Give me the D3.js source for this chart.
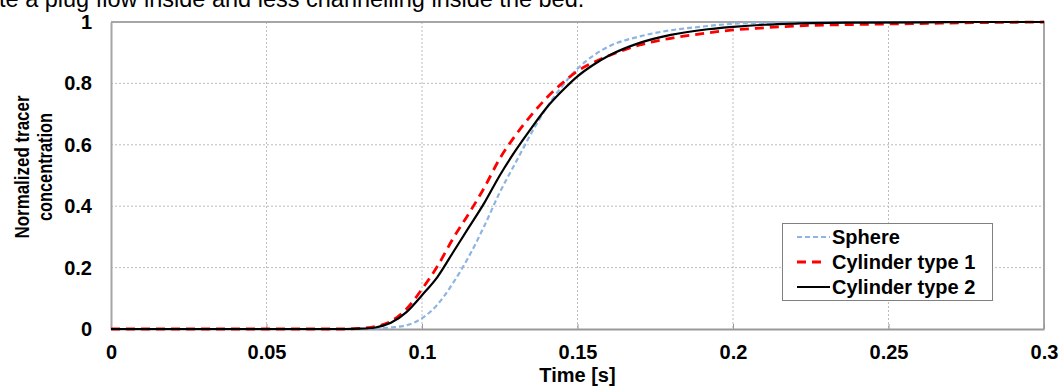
<!DOCTYPE html>
<html><head><meta charset="utf-8">
<script src="https://cdn.jsdelivr.net/npm/d3@7"></script>
<style>body{margin:0;background:#fff;}svg{display:block;}</style>
</head><body>
<svg id="c" width="1060" height="388"></svg>
<script>
const times = [0, 0.075, 0.08, 0.085, 0.09, 0.095, 0.1, 0.105, 0.11, 0.115, 0.12, 0.125, 0.13, 0.135, 0.14, 0.145, 0.15, 0.155, 0.16, 0.17, 0.18, 0.19, 0.2, 0.21, 0.22, 0.24, 0.26, 0.28, 0.3];
const sphere = [0, 0, 0, 0.001, 0.005, 0.012, 0.035, 0.08, 0.15, 0.235, 0.335, 0.445, 0.54, 0.635, 0.72, 0.79, 0.848, 0.89, 0.92, 0.953, 0.973, 0.985, 0.994, 0.997, 0.999, 1, 1, 1, 1];
const cyl1 = [0, 0, 0.002, 0.008, 0.025, 0.065, 0.13, 0.205, 0.295, 0.375, 0.46, 0.555, 0.63, 0.695, 0.752, 0.8, 0.84, 0.868, 0.89, 0.925, 0.947, 0.962, 0.974, 0.981, 0.987, 0.992, 0.995, 0.998, 1];
const cyl2 = [0, 0, 0.001, 0.005, 0.02, 0.055, 0.11, 0.17, 0.25, 0.33, 0.41, 0.5, 0.58, 0.652, 0.72, 0.775, 0.823, 0.86, 0.89, 0.932, 0.958, 0.974, 0.984, 0.991, 0.995, 0.998, 0.999, 1, 1];
const seriesNames = ["Sphere", "Cylinder type 1", "Cylinder type 2"];
const xTicks = [0, 0.05, 0.1, 0.15, 0.2, 0.25, 0.3];
const yTicks = [0, 0.2, 0.4, 0.6, 0.8, 1];
const headline = "te a plug flow inside and less channelling inside the bed.";
const yTitle = ["Normalized tracer", "concentration"];
const xTitle = "Time [s]";

const svg = d3.select("#c");
const L = 111, R = 1044, T = 22, B = 329;
const x = d3.scaleLinear().domain([0, 0.3]).range([L, R]);
const y = d3.scaleLinear().domain([0, 1]).range([B, T]);
const font = "'Liberation Sans', Arial, sans-serif";

svg.append("text").attr("x", -1).attr("y", 7).attr("font-family", font).attr("font-size", 23.5)
  .attr("fill", "#000").text(headline);

// grid
svg.append("g").selectAll("line").data(xTicks.slice(1, -1)).join("line")
  .attr("x1", d => x(d)).attr("x2", d => x(d)).attr("y1", T).attr("y2", B)
  .attr("stroke", "#bdbdbd").attr("stroke-width", 1).attr("stroke-dasharray", "2,2");
svg.append("g").selectAll("line").data(yTicks.slice(1, -1)).join("line")
  .attr("x1", L).attr("x2", R).attr("y1", d => y(d)).attr("y2", d => y(d))
  .attr("stroke", "#bdbdbd").attr("stroke-width", 1).attr("stroke-dasharray", "2,2");

// frame
svg.append("line").attr("x1", L).attr("x2", R + 1).attr("y1", T).attr("y2", T).attr("stroke", "#a6a6a6").attr("stroke-width", 2);
svg.append("line").attr("x1", R).attr("x2", R).attr("y1", T).attr("y2", B).attr("stroke", "#a6a6a6").attr("stroke-width", 2);

// axes
const xAxis = svg.append("g").attr("transform", `translate(0,${B})`)
  .call(d3.axisBottom(x).tickValues(xTicks).tickSize(-5).tickSizeOuter(0).tickFormat(d3.format("~g")).tickPadding(16));
xAxis.select(".domain").attr("stroke", "#999").attr("stroke-width", 2);
xAxis.selectAll(".tick line").attr("stroke", "#999");
xAxis.selectAll("text").attr("font-family", font).attr("font-size", 20).attr("font-weight", "bold").attr("fill", "#000");

const yAxis = svg.append("g").attr("transform", `translate(${L},0)`)
  .call(d3.axisLeft(y).tickValues(yTicks).tickSize(0).tickFormat(d3.format("~g")).tickPadding(19));
yAxis.select(".domain").attr("stroke", "#a6a6a6").attr("stroke-width", 2);
yAxis.selectAll("text").attr("font-family", font).attr("font-size", 20).attr("font-weight", "bold").attr("fill", "#000");

// axis titles
svg.append("text").attr("x", (L + R) / 2).attr("y", 382).attr("text-anchor", "middle")
  .attr("font-family", font).attr("font-size", 20).attr("font-weight", "bold").text(xTitle);
const yl = svg.append("text").attr("transform", "translate(0,167) rotate(-90)")
  .attr("text-anchor", "middle").attr("font-family", font).attr("font-size", 20).attr("font-weight", "bold");
yl.append("tspan").attr("x", 0).attr("y", 29).attr("textLength", 143).attr("lengthAdjust", "spacingAndGlyphs").text(yTitle[0]);
yl.append("tspan").attr("x", 0).attr("y", 52).attr("textLength", 108).attr("lengthAdjust", "spacingAndGlyphs").text(yTitle[1]);

// lines
const styles = [
  {data: sphere, color: "#8db4e2", dash: "5,3", w: 2.2, lx2: 830},
  {data: cyl1, color: "#ff0000", dash: "9,6", w: 2.8, lx2: 822},
  {data: cyl2, color: "#000000", dash: null, w: 2.2, lx2: 830}
];
const line = d3.line().x(d => x(d[0])).y(d => y(d[1])).curve(d3.curveMonotoneX);
styles.forEach(s => {
  svg.append("path").datum(times.map((t, i) => [t, s.data[i]]))
    .attr("d", line).attr("fill", "none").attr("stroke", s.color).attr("stroke-width", s.w)
    .attr("stroke-dasharray", s.dash);
});

// legend
const lg = svg.append("g");
lg.append("rect").attr("x", 782.5).attr("y", 223.5).attr("width", 210).attr("height", 77)
  .attr("fill", "#fff").attr("stroke", "#808080").attr("stroke-width", 1);
const rowsY = [237, 262, 287];
styles.forEach((s, i) => {
  lg.append("line").attr("x1", 797).attr("x2", s.lx2).attr("y1", rowsY[i]).attr("y2", rowsY[i])
    .attr("stroke", s.color).attr("stroke-width", s.w).attr("stroke-dasharray", s.dash);
  lg.append("text").attr("x", 832).attr("y", rowsY[i]).attr("dy", "0.35em")
    .attr("font-family", font).attr("font-size", 20).attr("font-weight", "bold").text(seriesNames[i]);
});
</script>
</body></html>
